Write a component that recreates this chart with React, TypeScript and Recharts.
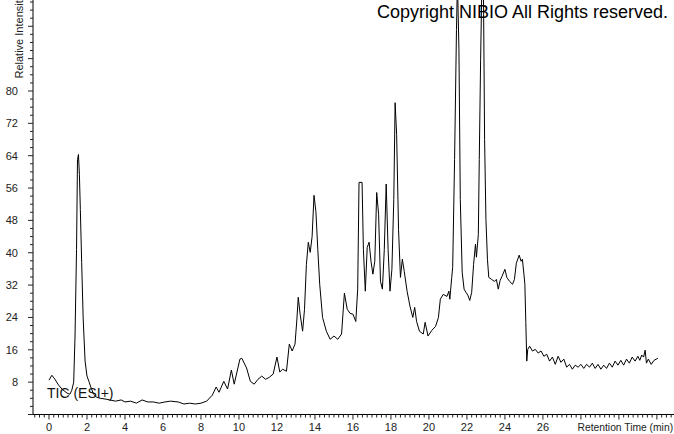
import React from "react";
import { LineChart, Line, XAxis, YAxis } from "recharts";

const retentionTime: number[] = [
  0.0, 0.15, 0.3, 0.5, 0.7, 0.95, 1.1, 1.2, 1.3, 1.37, 1.45, 1.5, 1.55, 1.6, 1.65, 1.72, 1.8, 1.9,
  2.0, 2.1, 2.2, 2.35, 2.5, 2.7, 3.0, 3.2, 3.5, 3.8, 4.0, 4.3, 4.6, 4.9, 5.2, 5.5, 5.8, 6.1, 6.4,
  6.8, 7.1, 7.4, 7.7, 8.0, 8.3, 8.6, 8.8, 8.95, 9.2, 9.4, 9.6, 9.75, 10.05, 10.15, 10.4, 10.6, 10.8,
  11.0, 11.2, 11.4, 11.6, 11.8, 12.0, 12.15, 12.3, 12.5, 12.65, 12.8, 12.95, 13.05, 13.12, 13.22,
  13.35, 13.45, 13.55, 13.65, 13.75, 13.85, 13.95, 14.05, 14.15, 14.25, 14.4, 14.6, 14.8, 15.0,
  15.2, 15.4, 15.55, 15.7, 15.85, 16.0, 16.15, 16.25, 16.32, 16.48, 16.55, 16.65, 16.75, 16.85,
  16.95, 17.05, 17.15, 17.25, 17.35, 17.45, 17.55, 17.65, 17.75, 17.85, 17.95, 18.05, 18.15, 18.22,
  18.3, 18.4, 18.5, 18.6, 18.7, 18.85, 19.0, 19.15, 19.25, 19.35, 19.5, 19.7, 19.8, 19.95, 20.15,
  20.35, 20.5, 20.6, 20.75, 20.95, 21.05, 21.1, 21.2, 21.25, 21.35, 21.45, 21.5, 21.58, 21.65,
  21.75, 21.85, 21.95, 22.05, 22.15, 22.25, 22.35, 22.45, 22.5, 22.6, 22.65, 22.72, 22.8, 22.87,
  22.93, 23.0, 23.08, 23.15, 23.3, 23.45, 23.55, 23.65, 23.75, 23.85, 24.0, 24.1, 24.25, 24.4,
  24.5, 24.6, 24.75, 24.85, 24.92, 25.0, 25.05, 25.1, 25.15, 25.2, 25.3, 25.45, 25.6, 25.75, 25.9,
  26.05, 26.2, 26.35, 26.5, 26.65, 26.8, 26.95, 27.1, 27.25, 27.4, 27.55, 27.7, 27.85, 28.0, 28.15,
  28.3, 28.45, 28.6, 28.75, 28.9, 29.05, 29.2, 29.35, 29.5, 29.65, 29.8, 29.95, 30.1, 30.25, 30.4,
  30.55, 30.7, 30.85, 31.0, 31.1, 31.2, 31.3, 31.38, 31.45, 31.55, 31.7, 31.85, 32.05,
];

const relativeIntensity: number[] = [
  8.5, 9.7, 8.8, 7.3, 6.2, 5.3, 5.0, 6.0, 8.0, 19.4, 40.8, 63.0, 64.3, 59.4, 50.7, 37.6, 23.6, 13.2,
  9.5, 8.2, 6.8, 5.0, 4.3, 4.0, 3.8, 3.6, 3.3, 3.6, 3.1, 3.3, 2.8, 3.6, 3.1, 3.1, 2.8, 3.1, 3.3,
  3.1, 2.6, 2.8, 2.6, 2.8, 3.3, 4.8, 6.8, 5.5, 8.2, 6.3, 11.0, 7.5, 13.7, 13.9, 11.5, 8.2, 7.5,
  8.7, 9.5, 8.7, 9.2, 10.0, 14.2, 10.5, 11.2, 10.7, 17.4, 15.7, 17.4, 23.6, 29.0, 24.8,
  20.6, 26.0, 37.1, 42.6, 40.1, 44.0, 54.2, 50.2, 40.8, 32.2, 24.0, 20.6, 18.6, 19.4,
  18.6, 19.9, 30.0, 26.0, 25.0, 24.8, 23.0, 31.0, 57.4, 57.4, 40.8, 30.5, 41.3, 42.6,
  37.9, 34.7, 37.9, 54.9, 49.5, 32.9, 31.0, 40.8, 57.0, 40.8, 30.5, 35.9, 53.2, 77.1,
  69.2, 45.8, 33.9, 38.4, 35.4, 30.5, 26.8, 24.0, 26.5, 23.0, 20.6, 19.9, 22.8, 19.4, 20.8,
  21.8, 24.0, 28.5, 29.7, 29.2, 30.5, 28.5, 33.9, 36.4, 63.1, 95.2, 107, 90.2, 53.2,
  35.2, 31.0, 30.2, 29.5, 28.2, 30.2, 37.1, 42.1, 38.9, 44.5, 63.1, 87.7, 110, 105,
  68.0, 48.2, 38.4, 33.9, 33.4, 32.9, 33.4, 31.0, 33.2, 34.2, 35.9, 33.9, 32.9, 32.2,
  33.4, 37.4, 39.4, 37.9, 38.4, 34.7, 32.2, 22.8, 13.2, 16.1, 16.9, 15.7, 16.1, 15.2, 15.7,
  14.4, 14.9, 13.2, 14.2, 12.4, 14.4, 12.9, 13.7, 11.7, 12.4, 11.2, 12.2, 11.7, 12.4, 11.4,
  12.4, 11.7, 12.7, 11.4, 12.4, 11.2, 12.2, 11.4, 12.7, 11.7, 13.2, 12.2, 13.4, 12.2, 13.7,
  12.7, 14.2, 13.2, 14.4, 13.4, 14.7, 14.2, 15.9, 12.7, 13.7, 12.4, 13.4, 13.9,
];

const xLabelTicks: number[] = [0, 2, 4, 6, 8, 10, 12, 14, 16, 18, 20, 22, 24, 26];
const yLabelTicks: number[] = [8, 16, 24, 32, 40, 48, 56, 64, 72, 80];

const xMinorTicks: number[] = [];
for (let i = -3; i <= 131; i++) xMinorTicks.push(Math.round(i * 25) / 100);
const yMinorTicks: number[] = [];
for (let i = 0; i <= 51; i++) yMinorTicks.push(i * 2);

const data = retentionTime.map((t, i) => ({ t, v: relativeIntensity[i] }));

const FONT = "'Liberation Sans', Arial, sans-serif";

const XTick = (props: any) => {
  const { x, y, payload } = props;
  const v = payload.value as number;
  const major = Math.abs(v / 2 - Math.round(v / 2)) < 1e-6;
  const labeled = xLabelTicks.some((l) => Math.abs(l - v) < 1e-6);
  return (
    <g>
      <line x1={x} x2={x} y1={y} y2={y + (major ? 5 : 3)} stroke="#222" strokeWidth={1} />
      {labeled && (
        <text x={x} y={y + 16.5} textAnchor="middle" fontSize={11} fontFamily={FONT} fill="#222">
          {v}
        </text>
      )}
    </g>
  );
};

const YTick = (props: any) => {
  const { x, y, payload } = props;
  const v = payload.value as number;
  const major = v % 8 === 0;
  const labeled = yLabelTicks.includes(v);
  return (
    <g>
      <line x1={x - (major ? 5 : 3)} x2={x} y1={y} y2={y} stroke="#222" strokeWidth={1} />
      {labeled && (
        <text x={18} y={y + 4} textAnchor="end" fontSize={11} fontFamily={FONT} fill="#222">
          {v}
        </text>
      )}
    </g>
  );
};

export default function App() {
  return (
    <div style={{ position: "absolute", left: 0, top: 0, width: 674, height: 434, background: "#fff" }}>
      <LineChart width={674} height={434} data={data} margin={{ top: 0, right: 0, bottom: 0, left: 0 }}>
        <XAxis
          dataKey="t"
          type="number"
          domain={[-0.842, 32.9]}
          allowDataOverflow
          ticks={xMinorTicks}
          interval={0}
          tickSize={0}
          tickMargin={0}
          tick={XTick}
          height={19.5}
          axisLine={{ stroke: "#000" }}
          tickLine={false}
        />
        <YAxis
          type="number"
          domain={[0, 102.5]}
          allowDataOverflow
          ticks={yMinorTicks}
          interval={0}
          tickSize={0}
          tickMargin={0}
          tick={YTick}
          width={33}
          axisLine={{ stroke: "#000" }}
          tickLine={false}
        />
        <Line
          type="linear"
          dataKey="v"
          stroke="#000"
          strokeWidth={1}
          dot={false}
          isAnimationActive={false}
        />
      </LineChart>
      <svg
        width={674}
        height={434}
        style={{ position: "absolute", left: 0, top: 0, pointerEvents: "none" }}
      >
        <text x={377} y={17.5} fontSize={18} fontFamily={FONT} fill="#000">
          Copyright NIBIO All Rights reserved.
        </text>
        <text x={47} y={397.5} fontSize={14} fontFamily={FONT} fill="#111">
          TIC (ESI+)
        </text>
        <text transform="translate(22.5,78.5) rotate(-90)" fontSize={11} fontFamily={FONT} fill="#222">
          Relative Intensity
        </text>
        <text x={577.5} y={431} fontSize={10.3} fontFamily={FONT} fill="#222">
          Retention Time (min)
        </text>
      </svg>
    </div>
  );
}
